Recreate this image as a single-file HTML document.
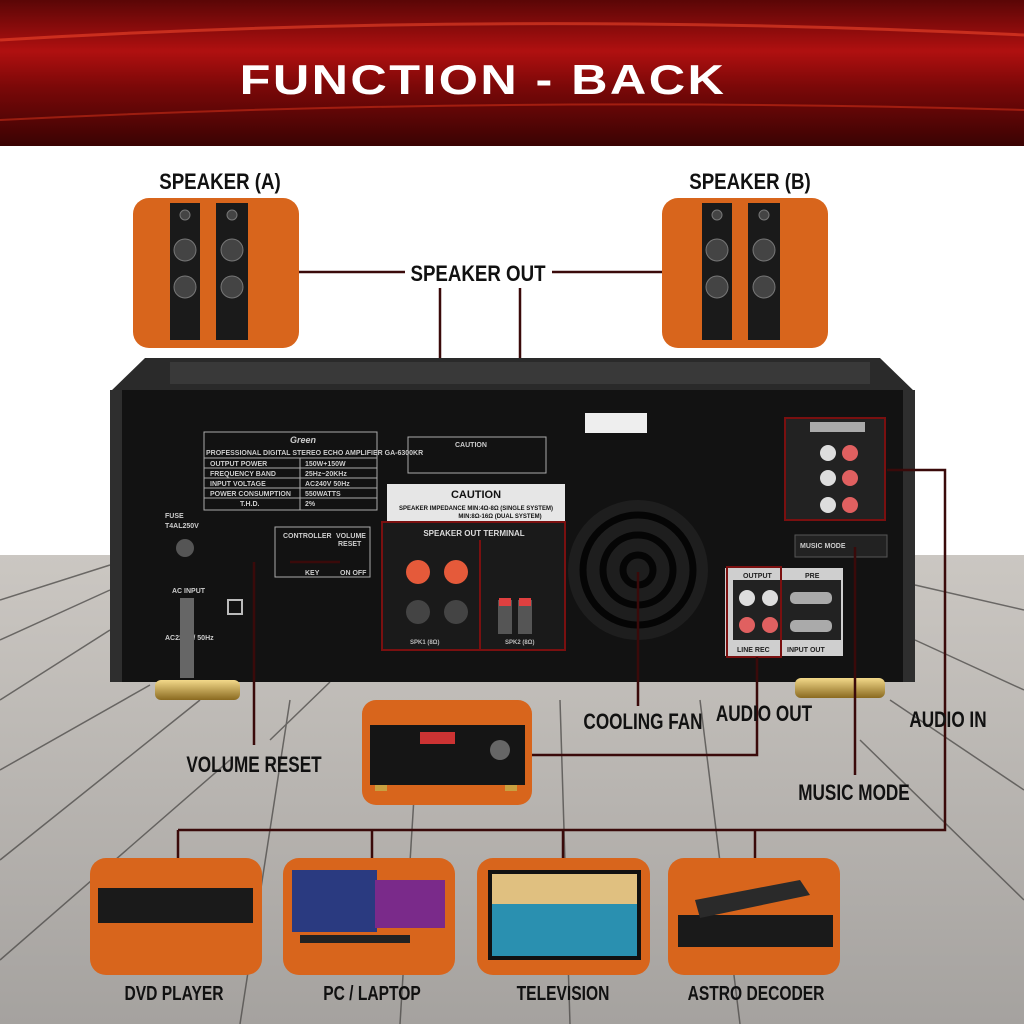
<!DOCTYPE html>
<html><head><meta charset="utf-8"><style>
html,body{margin:0;padding:0;width:1024px;height:1024px;overflow:hidden;background:#fff}
svg text{font-family:"Liberation Sans",sans-serif;font-weight:bold}
</style></head><body>
<svg width="1024" height="1024" viewBox="0 0 1024 1024" xmlns="http://www.w3.org/2000/svg">
<defs>
<linearGradient id="ban" x1="0" y1="0" x2="0" y2="1">
<stop offset="0" stop-color="#5a0606"/><stop offset="0.35" stop-color="#b01010"/><stop offset="0.6" stop-color="#7a0808"/><stop offset="1" stop-color="#3a0303"/></linearGradient>
<linearGradient id="wood" x1="0" y1="0" x2="0" y2="1">
<stop offset="0" stop-color="#cbc7c2"/><stop offset="1" stop-color="#a5a29f"/></linearGradient>
<linearGradient id="gold" x1="0" y1="0" x2="0" y2="1"><stop offset="0" stop-color="#f3d98a"/><stop offset="1" stop-color="#8a6a20"/></linearGradient>
</defs>
<rect width="1024" height="1024" fill="#fff"/>
<rect x="0" y="555" width="1024" height="469" fill="url(#wood)"/>
<g stroke="#4a4846" stroke-width="1.5" opacity="0.75">
<line x1="0" y1="600" x2="110" y2="565"/><line x1="0" y1="640" x2="110" y2="590"/><line x1="0" y1="700" x2="110" y2="630"/><line x1="0" y1="770" x2="150" y2="685"/><line x1="0" y1="860" x2="200" y2="700"/><line x1="0" y1="960" x2="230" y2="760"/>
<line x1="915" y1="585" x2="1024" y2="610"/><line x1="915" y1="640" x2="1024" y2="690"/><line x1="890" y1="700" x2="1024" y2="790"/><line x1="860" y1="740" x2="1024" y2="900"/>
<line x1="290" y1="700" x2="240" y2="1024"/><line x1="420" y1="700" x2="400" y2="1024"/><line x1="560" y1="700" x2="570" y2="1024"/><line x1="700" y1="700" x2="740" y2="1024"/><line x1="330" y1="682" x2="270" y2="740"/>
</g>
<rect x="0" y="0" width="1024" height="146" fill="url(#ban)"/>
<path d="M0 40 Q500 10 1024 35" stroke="#ff5030" stroke-width="3" fill="none" opacity="0.5"/>
<path d="M0 120 Q500 95 1024 110" stroke="#ff4020" stroke-width="2" fill="none" opacity="0.4"/>
<text x="483" y="94" font-size="42" fill="#fff" text-anchor="middle" letter-spacing="2" transform="translate(483 0) scale(1.2 1) translate(-483 0)">FUNCTION - BACK</text>
<g font-size="22" fill="#111" text-anchor="middle">
<text x="220" y="189" transform="translate(220 0) scale(0.85 1) translate(-220 0)">SPEAKER (A)</text>
<text x="750" y="189" transform="translate(750 0) scale(0.85 1) translate(-750 0)">SPEAKER (B)</text>
<text x="478" y="281" transform="translate(478 0) scale(0.85 1) translate(-478 0)">SPEAKER  OUT</text>
</g>
<rect x="133" y="198" width="166" height="150" rx="16" fill="#d8651c"/>
<rect x="662" y="198" width="166" height="150" rx="16" fill="#d8651c"/>
<g fill="#1a1a1a">
<rect x="170" y="203" width="30" height="137"/><rect x="216" y="203" width="32" height="137"/>
<rect x="702" y="203" width="30" height="137"/><rect x="748" y="203" width="32" height="137"/>
</g>
<g fill="#444" stroke="#777">
<circle cx="185" cy="215" r="5"/><circle cx="185" cy="250" r="11"/><circle cx="185" cy="287" r="11"/>
<circle cx="232" cy="215" r="5"/><circle cx="232" cy="250" r="11"/><circle cx="232" cy="287" r="11"/>
<circle cx="717" cy="215" r="5"/><circle cx="717" cy="250" r="11"/><circle cx="717" cy="287" r="11"/>
<circle cx="764" cy="215" r="5"/><circle cx="764" cy="250" r="11"/><circle cx="764" cy="287" r="11"/>
</g>
<g stroke="#3a0a0a" stroke-width="2.5" fill="none">
<line x1="299" y1="272" x2="405" y2="272"/><line x1="552" y1="272" x2="662" y2="272"/>
<line x1="440" y1="288" x2="440" y2="522"/><line x1="520" y1="288" x2="520" y2="522"/>
</g>
<polygon points="145,358 880,358 915,392 110,392" fill="#2a2a2a"/>
<rect x="170" y="362" width="700" height="22" fill="#444" opacity="0.6"/>
<rect x="110" y="390" width="805" height="292" fill="#121212"/>
<rect x="110" y="390" width="12" height="292" fill="#2e2e2e"/><rect x="903" y="390" width="12" height="292" fill="#2e2e2e"/>
<rect x="155" y="680" width="85" height="20" rx="6" fill="url(#gold)"/>
<rect x="795" y="678" width="90" height="20" rx="6" fill="url(#gold)"/>
<g stroke="#aaa" fill="none" stroke-width="1">
<rect x="204" y="432" width="173" height="78"/>
<line x1="204" y1="458" x2="377" y2="458"/><line x1="204" y1="468" x2="377" y2="468"/><line x1="204" y1="478" x2="377" y2="478"/><line x1="204" y1="488" x2="377" y2="488"/><line x1="204" y1="498" x2="377" y2="498"/><line x1="300" y1="458" x2="300" y2="510"/>
<rect x="408" y="437" width="138" height="36"/>
<rect x="275" y="527" width="95" height="50"/>
</g>
<g fill="#ccc" font-size="7">
<text x="290" y="443" font-size="9" font-style="italic">Green</text>
<text x="206" y="455">PROFESSIONAL DIGITAL STEREO ECHO AMPLIFIER GA-6300KR</text>
<text x="210" y="466">OUTPUT POWER</text><text x="305" y="466">150W+150W</text>
<text x="210" y="476">FREQUENCY BAND</text><text x="305" y="476">25Hz~20KHz</text>
<text x="210" y="486">INPUT VOLTAGE</text><text x="305" y="486">AC240V 50Hz</text>
<text x="210" y="496">POWER CONSUMPTION</text><text x="305" y="496">550WATTS</text>
<text x="240" y="506">T.H.D.</text><text x="305" y="506">2%</text>
<text x="165" y="518">FUSE</text><text x="165" y="528">T4AL250V</text>
<text x="172" y="593">AC INPUT</text><text x="165" y="640">AC220V / 50Hz</text>
<text x="283" y="538">CONTROLLER</text><text x="336" y="538">VOLUME</text><text x="338" y="546">RESET</text>
<text x="305" y="575">KEY</text><text x="340" y="575">ON  OFF</text>
<text x="455" y="447">CAUTION</text>
</g>
<circle cx="185" cy="548" r="9" fill="#555"/>
<rect x="180" y="598" width="14" height="80" fill="#666"/>
<rect x="228" y="600" width="14" height="14" fill="none" stroke="#bbb" stroke-width="2"/>
<rect x="387" y="484" width="178" height="40" fill="#e6e6e6"/>
<text x="476" y="498" font-size="11" fill="#111" text-anchor="middle">CAUTION</text>
<text x="476" y="510" font-size="6" fill="#111" text-anchor="middle">SPEAKER IMPEDANCE MIN:4Ω-8Ω (SINGLE SYSTEM)</text>
<text x="500" y="518" font-size="6" fill="#111" text-anchor="middle">MIN:8Ω-16Ω (DUAL SYSTEM)</text>
<rect x="382" y="522" width="183" height="128" fill="#1a1a1a" stroke="#7a1010" stroke-width="2"/>
<line x1="480" y1="540" x2="480" y2="650" stroke="#7a1010" stroke-width="2"/>
<text x="474" y="536" font-size="8" fill="#ddd" text-anchor="middle">SPEAKER OUT TERMINAL</text>
<circle cx="418" cy="572" r="12" fill="#e55a3a"/><circle cx="456" cy="572" r="12" fill="#e55a3a"/>
<circle cx="418" cy="612" r="12" fill="#444"/><circle cx="456" cy="612" r="12" fill="#444"/>
<rect x="498" y="600" width="14" height="34" fill="#555"/><rect x="518" y="600" width="14" height="34" fill="#555"/>
<rect x="499" y="598" width="12" height="8" fill="#e04040"/><rect x="519" y="598" width="12" height="8" fill="#e04040"/>
<text x="410" y="644" font-size="6" fill="#bbb">SPK1 (8Ω)</text><text x="505" y="644" font-size="6" fill="#bbb">SPK2 (8Ω)</text>
<circle cx="638" cy="570" r="70" fill="#1e1e1e"/>
<g fill="none" stroke="#050505" stroke-width="7">
<circle cx="638" cy="570" r="55"/><circle cx="638" cy="570" r="35"/><circle cx="638" cy="570" r="15"/>
</g>
<rect x="585" y="413" width="62" height="20" fill="#eee"/>
<rect x="785" y="418" width="100" height="102" fill="#222" stroke="#7a1010" stroke-width="2"/>
<rect x="810" y="422" width="55" height="10" fill="#aaa"/>
<circle cx="828" cy="453" r="8" fill="#ddd"/><circle cx="850" cy="453" r="8" fill="#e06060"/>
<circle cx="828" cy="478" r="8" fill="#ddd"/><circle cx="850" cy="478" r="8" fill="#e06060"/>
<circle cx="828" cy="505" r="8" fill="#ddd"/><circle cx="850" cy="505" r="8" fill="#e06060"/>
<rect x="795" y="535" width="92" height="22" fill="#222" stroke="#555"/>
<text x="800" y="548" font-size="7" fill="#ccc">MUSIC MODE</text>
<rect x="725" y="568" width="118" height="88" fill="#cfcfcf"/>
<rect x="733" y="580" width="108" height="60" fill="#222"/>
<circle cx="747" cy="598" r="8" fill="#ddd"/><circle cx="770" cy="598" r="8" fill="#ddd"/>
<circle cx="747" cy="625" r="8" fill="#e06060"/><circle cx="770" cy="625" r="8" fill="#e06060"/>
<rect x="790" y="592" width="42" height="12" rx="5" fill="#aaa"/><rect x="790" y="620" width="42" height="12" rx="5" fill="#aaa"/>
<rect x="727" y="567" width="54" height="90" fill="none" stroke="#7a1010" stroke-width="2"/>
<g font-size="7" fill="#222"><text x="743" y="578">OUTPUT</text><text x="805" y="578">PRE</text><text x="737" y="652">LINE  REC</text><text x="787" y="652">INPUT  OUT</text></g>
<g stroke="#3a0a0a" stroke-width="2.5" fill="none">
<line x1="290" y1="562" x2="340" y2="562"/><line x1="254" y1="562" x2="254" y2="745"/>
<line x1="638" y1="572" x2="638" y2="706"/>
<polyline points="757,657 757,755 532,755"/>
<polyline points="887,470 945,470 945,830 178,830"/>
<line x1="855" y1="547" x2="855" y2="775"/>
<line x1="178" y1="830" x2="178" y2="858"/><line x1="372" y1="830" x2="372" y2="858"/><line x1="563" y1="830" x2="563" y2="858"/><line x1="755" y1="830" x2="755" y2="858"/>
</g>
<g font-size="22" fill="#111" text-anchor="middle">
<text x="643" y="729" transform="translate(643 0) scale(0.78 1) translate(-643 0)">COOLING FAN</text>
<text x="764" y="721" transform="translate(764 0) scale(0.78 1) translate(-764 0)">AUDIO OUT</text>
<text x="948" y="727" transform="translate(948 0) scale(0.78 1) translate(-948 0)">AUDIO IN</text>
<text x="254" y="772" transform="translate(254 0) scale(0.78 1) translate(-254 0)">VOLUME RESET</text>
<text x="854" y="800" transform="translate(854 0) scale(0.78 1) translate(-854 0)">MUSIC MODE</text>
</g>
<rect x="362" y="700" width="170" height="105" rx="14" fill="#d8651c"/>
<rect x="370" y="725" width="155" height="60" fill="#151515"/>
<rect x="420" y="732" width="35" height="12" fill="#c33"/><circle cx="500" cy="750" r="10" fill="#666"/>
<rect x="375" y="785" width="12" height="6" fill="#c9a040"/><rect x="505" y="785" width="12" height="6" fill="#c9a040"/>
<rect x="90" y="858" width="172" height="117" rx="16" fill="#d8651c"/>
<rect x="283" y="858" width="172" height="117" rx="16" fill="#d8651c"/>
<rect x="477" y="858" width="173" height="117" rx="16" fill="#d8651c"/>
<rect x="668" y="858" width="172" height="117" rx="16" fill="#d8651c"/>
<rect x="98" y="888" width="155" height="35" fill="#1a1a1a"/>
<rect x="292" y="870" width="85" height="62" fill="#2a3a80"/><rect x="375" y="880" width="70" height="48" fill="#7a2a8a"/><rect x="300" y="935" width="110" height="8" fill="#222"/>
<rect x="488" y="870" width="153" height="90" fill="#111"/><rect x="492" y="874" width="145" height="82" fill="#2a90b0"/><rect x="492" y="874" width="145" height="30" fill="#e0c080"/>
<rect x="678" y="915" width="155" height="32" fill="#1a1a1a"/>
<polygon points="695,900 800,880 810,895 700,918" fill="#2a2a2a"/>
<g font-size="20" fill="#111" text-anchor="middle">
<text x="174" y="1000" transform="translate(174 0) scale(0.78 1) translate(-174 0)">DVD PLAYER</text>
<text x="372" y="1000" transform="translate(372 0) scale(0.78 1) translate(-372 0)">PC  /  LAPTOP</text>
<text x="563" y="1000" transform="translate(563 0) scale(0.78 1) translate(-563 0)">TELEVISION</text>
<text x="756" y="1000" transform="translate(756 0) scale(0.78 1) translate(-756 0)">ASTRO DECODER</text>
</g>
</svg>
</body></html>
